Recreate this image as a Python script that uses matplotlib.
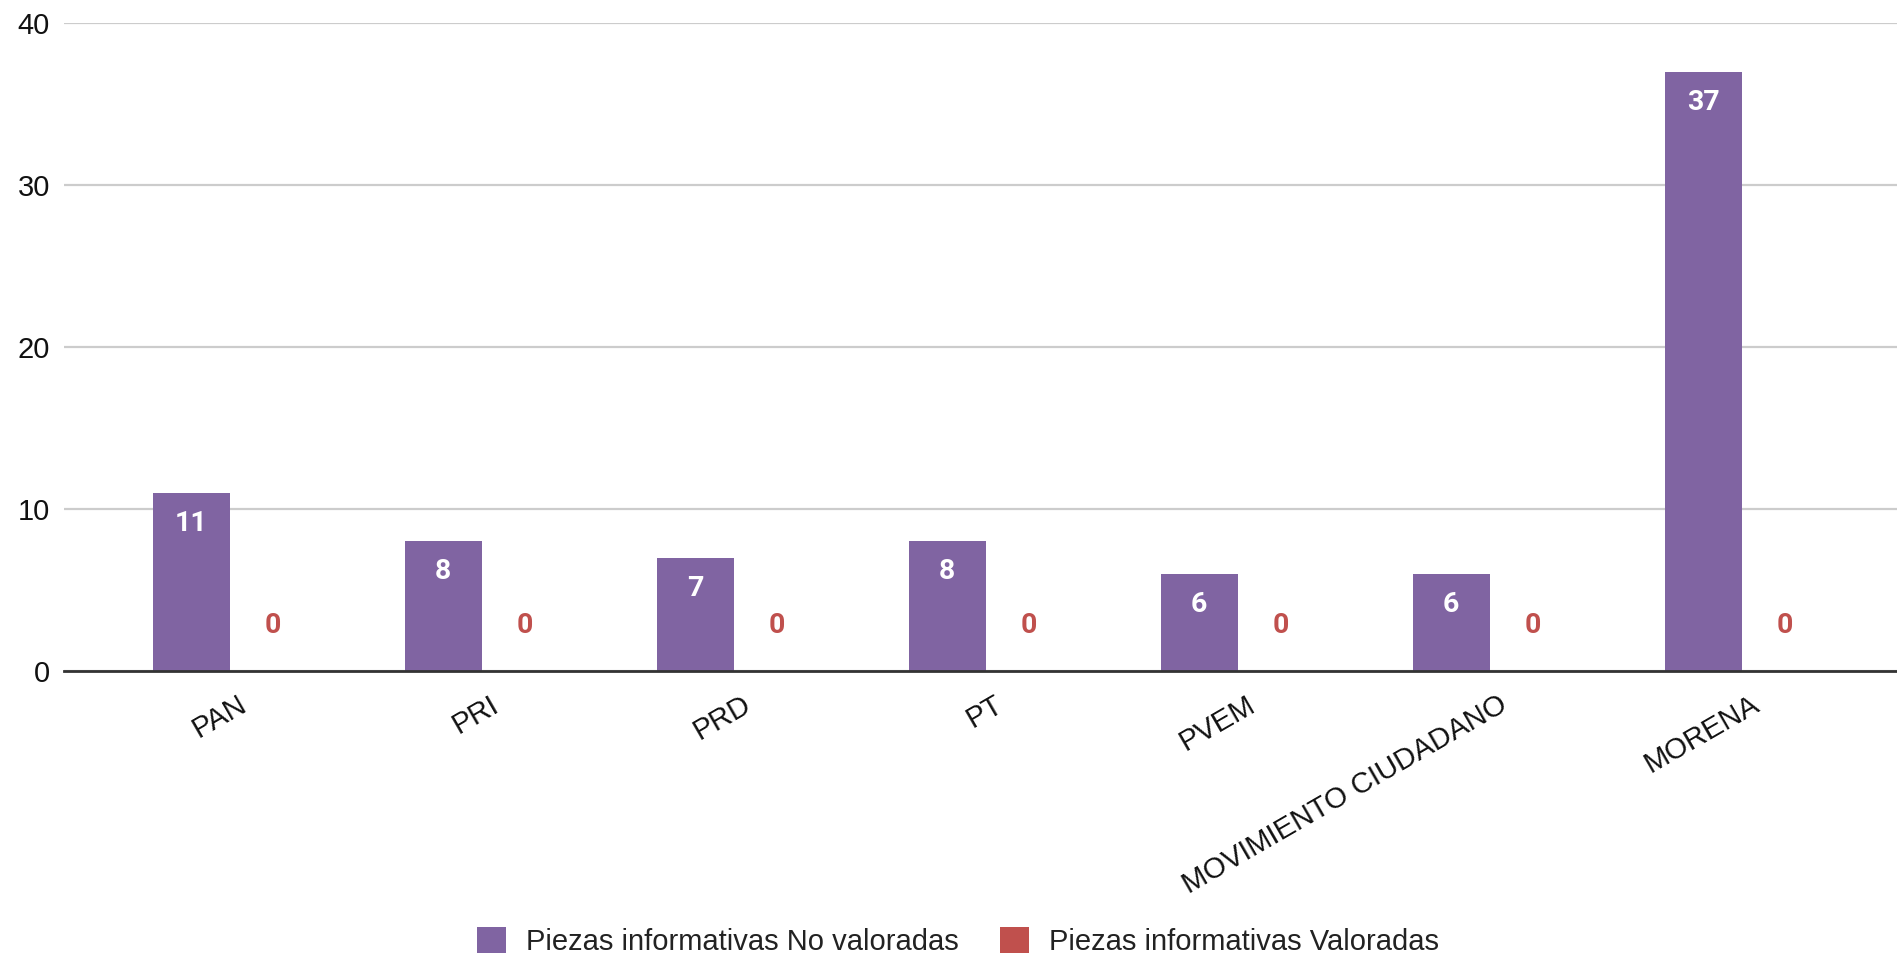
import numpy as np
import matplotlib
matplotlib.use('Agg')
from matplotlib import pyplot as plt
import matplotlib.transforms as mtransforms

# data
partidos = ['PAN', 'PRI', 'PRD', 'PT', 'PVEM', 'MOVIMIENTO CIUDADANO', 'MORENA']
no_valoradas = [11, 8, 7, 8, 6, 6, 37]
valoradas = [0, 0, 0, 0, 0, 0, 0]
series_names = ['Piezas informativas No valoradas', 'Piezas informativas Valoradas']
y_ticks = [0, 10, 20, 30, 40]

purple = '#8064a2'
red = '#c0504d'

plt.rcParams['font.family'] = ['Liberation Sans', 'DejaVu Sans']

fig = plt.figure(figsize=(18.97, 9.6), dpi=100)
ax = fig.add_axes([0.0337, 0.301, 0.9663, 0.675])

x = np.arange(len(partidos))
w = 0.305
off = 0.162

bars1 = ax.bar(x - off, no_valoradas, w, color=purple, label=series_names[0], zorder=3)
bars2 = ax.bar(x + off, valoradas, w, color=red, label=series_names[1], zorder=3)

# value labels
for xi, v in zip(x - off, no_valoradas):
    ax.annotate(str(v), (xi, v), xytext=(0, -22), textcoords='offset points',
                ha='center', va='center', color='white', fontsize=20.5,
                fontweight='bold', family='Roboto', zorder=4)
for xi, v in zip(x + off, valoradas):
    ax.annotate(str(v), (xi, v), xytext=(0, 33), textcoords='offset points',
                ha='center', va='center', color=red, fontsize=20.5,
                fontweight='bold', family='Roboto', zorder=4)

ax.set_ylim(0, 40)
ax.set_xlim(-0.667, 6.607)
ax.set_yticks(y_ticks)
ax.set_yticklabels([str(t) for t in y_ticks], fontsize=21, color='#111111')
ax.tick_params(axis='y', length=0, pad=10)
ax.yaxis.grid(True, color='#cccccc', linewidth=1.6, zorder=0)
ax.set_axisbelow(True)
for s in ax.spines.values():
    s.set_visible(False)
ax.axhline(0, color='#333333', linewidth=2, zorder=5, clip_on=False)

ax.set_xticks(x)
ax.set_xticklabels(partidos, rotation=30, ha='right', fontsize=21, color='#111111')
ax.tick_params(axis='x', length=0, pad=14)
shift = mtransforms.ScaledTranslation(20 / 100, 0, fig.dpi_scale_trans)
for lab in ax.get_xticklabels():
    lab.set_transform(lab.get_transform() + shift)

fig.legend(handles=[bars1, bars2], labels=series_names, loc='center',
           bbox_to_anchor=(0.505, 0.019), ncol=2, frameon=False, fontsize=21,
           handlelength=1.0, handleheight=1.0, handletextpad=0.7,
           columnspacing=1.4, labelcolor='#222222')

plt.savefig('out.png', dpi=100)
